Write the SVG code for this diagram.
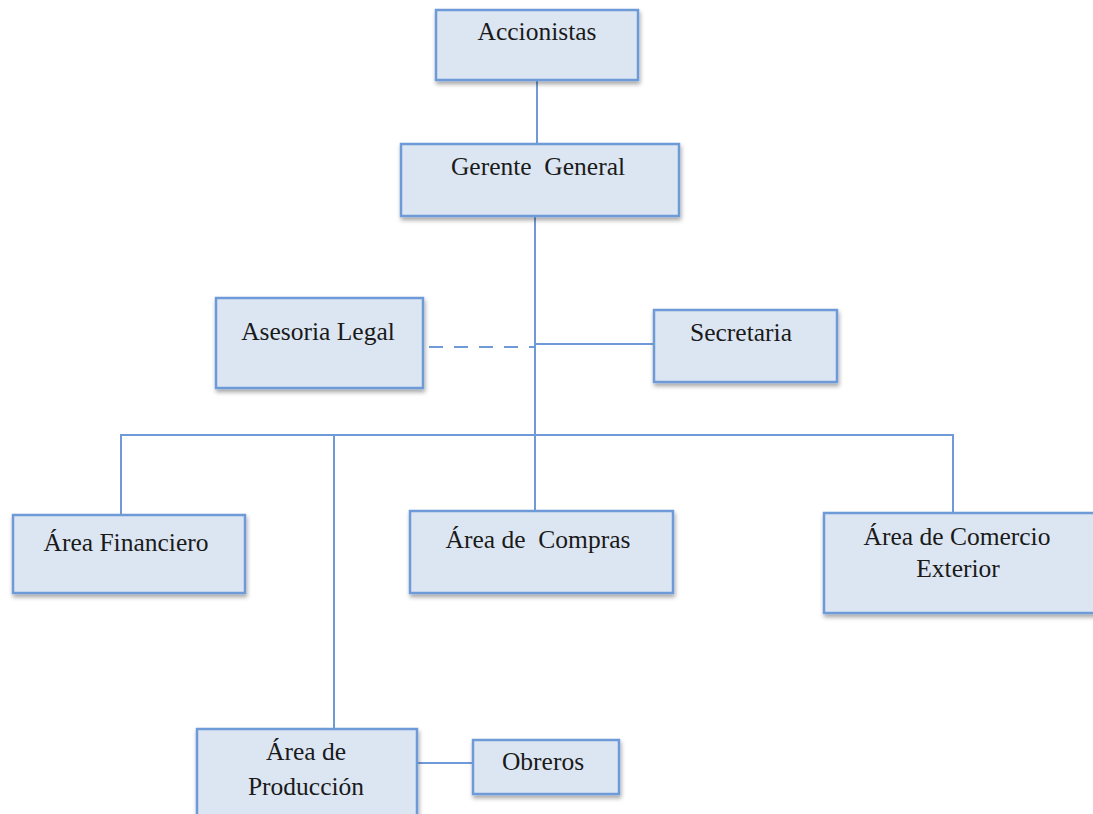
<svg xmlns="http://www.w3.org/2000/svg" width="1093" height="814" viewBox="0 0 1093 814">
<style>
.box{fill:#dce6f2;stroke:#6e9ad8;stroke-width:2.5;filter:url(#sh)}
.t{font-family:"Liberation Serif","Times New Roman",serif;font-size:25.5px;fill:#1a1a1a;text-anchor:middle;white-space:pre}
.c{stroke:#6e9ad8;stroke-width:2;fill:none}
.d{stroke-dasharray:14,11}
</style>
<defs>
<filter id="sh" x="-10%" y="-10%" width="130%" height="140%">
<feDropShadow dx="1" dy="3" stdDeviation="2" flood-color="#000" flood-opacity="0.35"/>
</filter>
</defs>
<rect width="1093" height="814" fill="#fff"/>
<g id="connectors">
<line class="c" x1="537" y1="80" x2="537" y2="144"/>
<line class="c" x1="535" y1="216" x2="535" y2="511"/>
<line class="c d" x1="429" y1="347" x2="535" y2="347"/>
<line class="c" x1="535" y1="344" x2="654" y2="344"/>
<polyline class="c" points="121,515 121,435 953,435 953,513"/>
<line class="c" x1="334" y1="435" x2="334" y2="729"/>
<line class="c" x1="417" y1="763" x2="473" y2="763"/>
</g>
<g id="accionistas"><rect class="box" x="436" y="10" width="202" height="70"/><text class="t" x="537" y="40">Accionistas</text></g>
<g id="gerente"><rect class="box" x="401" y="144" width="278" height="72"/><text class="t" x="538" y="175" xml:space="preserve">Gerente  General</text></g>
<g id="asesoria"><rect class="box" x="216" y="298" width="207" height="90"/><text class="t" x="318" y="340">Asesoria Legal</text></g>
<g id="secretaria"><rect class="box" x="654" y="310" width="183" height="72"/><text class="t" x="741" y="341">Secretaria</text></g>
<g id="financiero"><rect class="box" x="13" y="515" width="232" height="78"/><text class="t" x="126" y="551">Área Financiero</text></g>
<g id="compras"><rect class="box" x="410" y="511" width="263" height="82"/><text class="t" x="538" y="548" xml:space="preserve">Área de  Compras</text></g>
<g id="comercio"><rect class="box" x="824" y="513" width="280" height="100"/><text class="t" x="957" y="545">Área de Comercio</text><text class="t" x="958" y="577">Exterior</text></g>
<g id="produccion"><rect class="box" x="197" y="729" width="220" height="100"/><text class="t" x="306" y="760">Área de</text><text class="t" x="306" y="795">Producción</text></g>
<g id="obreros"><rect class="box" x="473" y="740" width="146" height="54"/><text class="t" x="543" y="770">Obreros</text></g>
</svg>
